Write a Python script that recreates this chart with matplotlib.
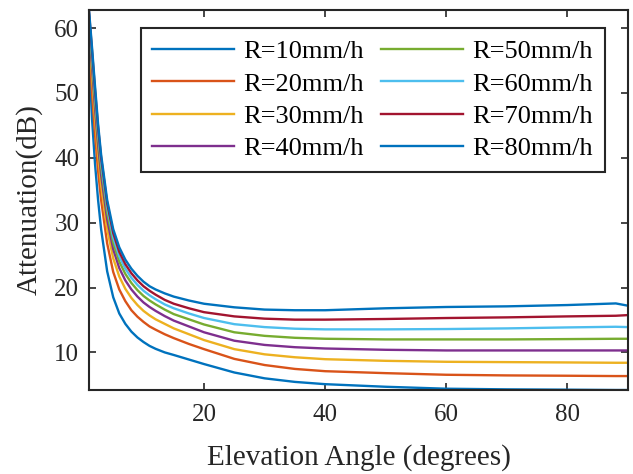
import matplotlib
matplotlib.use("Agg")
import matplotlib.pyplot as plt

plt.rcParams["font.family"] = ["Liberation Serif", "DejaVu Serif"]

angle = [1, 1.5, 2, 2.5, 3, 4, 5, 6, 7, 8, 9, 10, 11, 12, 13.5, 15, 17.5,
         20, 25, 30, 35, 40, 50, 60, 70, 80, 88, 90]

# attenuation (dB) for each rain rate
att_r10 = [56.0, 46.0, 39.0, 33.5, 29.0, 22.5, 18.5, 16.0, 14.4, 13.2, 12.3, 11.6, 11.0, 10.55,
           10.0, 9.6, 8.9, 8.2, 6.9, 6.0, 5.45, 5.1, 4.7, 4.4, 4.3, 4.25, 4.2, 4.2]
att_r20 = [58.5, 50.0, 43.5, 38.0, 33.5, 26.8, 22.4, 19.7, 17.9, 16.5, 15.5, 14.7, 14.0, 13.5,
           12.8, 12.2, 11.3, 10.5, 9.0, 8.05, 7.45, 7.1, 6.8, 6.55, 6.45, 6.4, 6.35, 6.35]
att_r30 = [60.0, 52.5, 46.0, 40.4, 35.8, 29.0, 24.5, 21.7, 19.8, 18.4, 17.3, 16.4, 15.7, 15.1,
           14.4, 13.7, 12.8, 11.9, 10.5, 9.7, 9.25, 8.95, 8.7, 8.55, 8.5, 8.45, 8.4, 8.4]
att_r40 = [61.0, 54.0, 47.6, 42.0, 37.4, 30.5, 25.9, 23.0, 21.1, 19.7, 18.6, 17.7, 17.0, 16.4,
           15.6, 14.9, 14.0, 13.1, 11.8, 11.15, 10.8, 10.6, 10.4, 10.3, 10.3, 10.3, 10.3, 10.3]
att_r50 = [61.7, 55.0, 48.8, 43.2, 38.5, 31.6, 26.9, 24.0, 22.1, 20.7, 19.6, 18.7, 18.0, 17.4,
           16.6, 15.9, 15.1, 14.3, 13.1, 12.55, 12.25, 12.1, 12.0, 12.0, 12.0, 12.05, 12.1, 12.1]
att_r60 = [62.2, 55.8, 49.7, 44.0, 39.3, 32.4, 27.7, 24.8, 22.9, 21.5, 20.4, 19.5, 18.8, 18.2,
           17.4, 16.8, 16.0, 15.3, 14.35, 13.9, 13.65, 13.55, 13.55, 13.6, 13.7, 13.85, 13.95, 13.9]
att_r70 = [62.5, 56.5, 50.4, 44.7, 40.0, 33.0, 28.4, 25.5, 23.6, 22.2, 21.1, 20.2, 19.5, 18.9,
           18.1, 17.5, 16.8, 16.2, 15.55, 15.2, 15.05, 15.05, 15.15, 15.3, 15.4, 15.55, 15.65, 15.75]
att_r80 = [62.8, 57.0, 51.0, 45.2, 40.5, 33.5, 29.0, 26.2, 24.3, 22.9, 21.8, 20.9, 20.2, 19.7,
           19.1, 18.6, 18.0, 17.5, 16.95, 16.6, 16.5, 16.5, 16.8, 17.0, 17.1, 17.3, 17.55, 17.2]

labels = ["R=10mm/h", "R=20mm/h", "R=30mm/h", "R=40mm/h",
          "R=50mm/h", "R=60mm/h", "R=70mm/h", "R=80mm/h"]
series = [att_r10, att_r20, att_r30, att_r40, att_r50, att_r60, att_r70, att_r80]
colors = ["#0072BD", "#D95319", "#EDB120", "#7E2F8E",
          "#77AC30", "#4DBEEE", "#A2142F", "#0072BD"]

fig = plt.figure(figsize=(6.33, 4.74), dpi=100)
ax = fig.add_axes([0.1406, 0.1772, 0.8514, 0.8018])

for y, lab, c in zip(series, labels, colors):
    ax.plot(angle, y, color=c, linewidth=1.7, label=lab)

ax.set_xlim(1, 90)
ax.set_ylim(4.2, 62.8)
ax.set_xticks([20, 40, 60, 80])
ax.set_yticks([10, 20, 30, 40, 50, 60])
ax.tick_params(direction="in", length=5, width=1.2, labelsize=18,
               top=True, right=True, colors="#262626")
ax.tick_params(axis="y", pad=7)
ax.tick_params(axis="x", pad=10)
for s in ax.spines.values():
    s.set_linewidth(1.5)
    s.set_color("#262626")

ax.set_xlabel("Elevation Angle (degrees)", fontsize=21, color="#262626", labelpad=13)
ax.set_ylabel("Attenuation(dB)", fontsize=21, color="#262626", labelpad=8)

leg = ax.legend(ncol=2, loc="upper right", bbox_to_anchor=(0.957, 0.953),
                fontsize=19, frameon=True, fancybox=False, framealpha=1,
                handlelength=3.1, handletextpad=0.35, columnspacing=0.65,
                labelspacing=0.34, borderpad=0.45, borderaxespad=0)
leg.get_frame().set_edgecolor("#262626")
leg.get_frame().set_linewidth(1.5)

fig.savefig("out.png", dpi=100)
